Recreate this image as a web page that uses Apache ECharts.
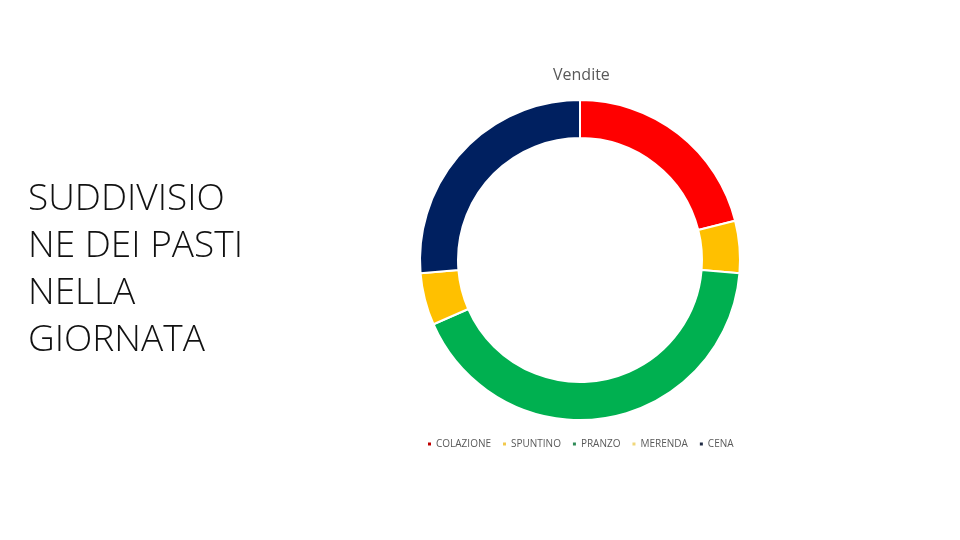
<!DOCTYPE html>
<html>
<head>
<meta charset="utf-8">
<script src="https://cdn.jsdelivr.net/npm/echarts@6/dist/echarts.min.js"></script>
<style>
html,body{margin:0;padding:0;background:#fff;}
#main{width:960px;height:540px;}
</style>
</head>
<body>
<div id="main"></div>
<script>
var categories = ['COLAZIONE', 'SPUNTINO', 'PRANZO', 'MERENDA', 'CENA'];
var values = [20, 5, 40, 5, 25];
var colors = ['#FF0000', '#FFC000', '#00B050', '#FFC000', '#002060'];
var legendColors = ['#C00000', '#F2C94C', '#2E8B57', '#F0D77A', '#1F2A44'];
var seriesName = 'Vendite';
var slideTitle = 'SUDDIVISIO\nNE DEI PASTI\nNELLA\nGIORNATA';

var chart = echarts.init(document.getElementById('main'));
chart.setOption({
  backgroundColor: '#ffffff',
  animation: false,
  title: {
    text: seriesName,
    left: 548,
    top: 62,
    textStyle: { fontFamily: 'Open Sans', fontSize: 16, fontWeight: 'normal', color: '#595959' }
  },
  legend: {
    data: categories.map(function (c, i) { return { name: c, itemStyle: { color: legendColors[i] } }; }),
    left: 421,
    top: 434,
    itemWidth: 5,
    itemHeight: 5,
    itemGap: 10,
    icon: 'rect',
    textStyle: { fontFamily: 'Open Sans', fontSize: 10, color: '#595959', padding: [0, 0, 0, -1] }
  },
  graphic: [{
    type: 'text',
    left: 28,
    top: 176,
    style: {
      text: slideTitle,
      fontFamily: 'Open Sans',
      fontWeight: 300,
      fontSize: 37,
      lineHeight: 47,
      fill: '#111111'
    }
  }],
  series: [{
    name: seriesName,
    type: 'pie',
    center: [580, 260],
    radius: [122, 160],
    startAngle: 90,
    clockwise: true,
    label: { show: false },
    labelLine: { show: false },
    itemStyle: { borderColor: '#ffffff', borderWidth: 2 },
    emphasis: { disabled: true },
    data: categories.map(function (c, i) {
      return { name: c, value: values[i], itemStyle: { color: colors[i] } };
    })
  }]
});
</script>
</body>
</html>
